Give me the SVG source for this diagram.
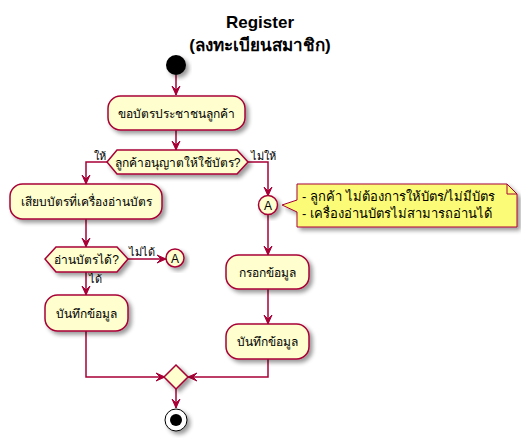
<svg xmlns="http://www.w3.org/2000/svg" width="521" height="441" viewBox="0 0 521 441">
<style>
.box{fill:#FEFECE;stroke:#A80036;stroke-width:1.5;filter:url(#sh)}
.note{fill:#FBFB77;stroke:#A80036;stroke-width:1;filter:url(#sh)}
.ln{fill:none;stroke:#A80036;stroke-width:1.5}
.t{font-family:"Liberation Sans","DejaVu Sans",sans-serif;font-size:12px;fill:#000}
.nt{font-family:"Liberation Sans","DejaVu Sans",sans-serif;font-size:13px;fill:#000}
.lb{font-family:"Liberation Sans","DejaVu Sans",sans-serif;font-size:11px;fill:#000}
.title{font-family:"Liberation Sans","DejaVu Sans",sans-serif;font-size:17px;font-weight:bold;fill:#000}
</style>
<defs>
<filter id="sh" x="-20%" y="-20%" width="150%" height="150%">
<feGaussianBlur in="SourceAlpha" stdDeviation="2"/>
<feOffset dx="3" dy="3" result="b"/>
<feComponentTransfer><feFuncA type="linear" slope="0.4"/></feComponentTransfer>
<feMerge><feMergeNode/><feMergeNode in="SourceGraphic"/></feMerge>
</filter>
<marker id="ah" viewBox="0 0 10 10" refX="9" refY="5" markerWidth="10" markerHeight="10" markerUnits="userSpaceOnUse" orient="auto">
<path d="M0,1 L9,5 L0,9 L4,5 Z" fill="#A80036" stroke="#A80036" stroke-width="1"/>
</marker>
</defs>
<rect width="521" height="441" fill="#FFFFFF"/>
<text class="title" x="260" y="28" text-anchor="middle">Register</text>
<text class="title" x="260" y="51" text-anchor="middle">(ลงทะเบียนสมาชิก)</text>

<g id="connectors">
<line class="ln" x1="176" y1="75" x2="176" y2="95" marker-end="url(#ah)"/>
<line class="ln" x1="176" y1="130" x2="176" y2="150" marker-end="url(#ah)"/>
<polyline class="ln" points="107,162 86,162 86,184" marker-end="url(#ah)"/>
<polyline class="ln" points="248,162 268,162 268,196" marker-end="url(#ah)"/>
<line class="ln" x1="86" y1="219" x2="86" y2="247" marker-end="url(#ah)"/>
<line class="ln" x1="128" y1="259" x2="166" y2="259" marker-end="url(#ah)"/>
<line class="ln" x1="86" y1="272" x2="86" y2="295" marker-end="url(#ah)"/>
<polyline class="ln" points="86,331 86,377 165,377" marker-end="url(#ah)"/>
<line class="ln" x1="268" y1="215" x2="268" y2="255" marker-end="url(#ah)"/>
<line class="ln" x1="268" y1="289" x2="268" y2="324" marker-end="url(#ah)"/>
<polyline class="ln" points="268,359 268,377 188,377" marker-end="url(#ah)"/>
<line class="ln" x1="176" y1="389" x2="176" y2="408" marker-end="url(#ah)"/>
<text class="lb" x="94" y="160">ให้</text>
<text class="lb" x="251" y="160">ไม่ให้</text>
<text class="lb" x="129" y="256">ไม่ได้</text>
<text class="lb" x="89" y="283">ได้</text>
</g>

<g id="start"><circle cx="176" cy="65" r="10" fill="#000" filter="url(#sh)"/></g>

<g id="n1">
<rect class="box" x="108" y="96" width="137" height="34" rx="12.5"/>
<text class="t" x="176.5" y="118" text-anchor="middle">ขอบัตรประชาชนลูกค้า</text>
</g>

<g id="d1">
<polygon class="box" points="107,162 117,150 237,150 248,162 237,174 117,174"/>
<text class="t" x="177.5" y="166.5" text-anchor="middle">ลูกค้าอนุญาตให้ใช้บัตร?</text>
</g>

<g id="n2">
<rect class="box" x="10" y="184" width="152" height="35" rx="12.5"/>
<text class="t" x="86" y="206" text-anchor="middle">เสียบบัตรที่เครื่องอ่านบัตร</text>
</g>

<g id="d2">
<polygon class="box" points="45,259 56,247 117,247 128,259 117,272 56,272"/>
<text class="t" x="86.5" y="264" text-anchor="middle">อ่านบัตรได้?</text>
</g>

<g id="connA1">
<circle class="box" cx="175" cy="258" r="9"/>
<text class="t" x="175" y="262.5" text-anchor="middle">A</text>
</g>

<g id="n3">
<rect class="box" x="45" y="295" width="83" height="36" rx="12.5"/>
<text class="t" x="86.5" y="318" text-anchor="middle">บันทึกข้อมูล</text>
</g>

<g id="connA2">
<circle class="box" cx="268" cy="205" r="9.5"/>
<text class="t" x="268" y="209.5" text-anchor="middle">A</text>
</g>

<g id="note">
<path class="note" d="M297,184 L507,184 L517,194 L517,227 L297,227 L297,212 L282,205 L297,200 Z"/>
<path d="M507,184 L507,194 L517,194" fill="none" stroke="#A80036" stroke-width="1"/>
<text class="nt" x="302" y="201">- ลูกค้า ไม่ต้องการให้บัตร/ไม่มีบัตร</text>
<text class="nt" x="302" y="218">- เครื่องอ่านบัตรไม่สามารถอ่านได้</text>
</g>

<g id="n4">
<rect class="box" x="226" y="255" width="83" height="34" rx="12.5"/>
<text class="t" x="267.5" y="277" text-anchor="middle">กรอกข้อมูล</text>
</g>

<g id="n5">
<rect class="box" x="226" y="324" width="83" height="35" rx="12.5"/>
<text class="t" x="267.5" y="346" text-anchor="middle">บันทึกข้อมูล</text>
</g>

<g id="merge">
<polygon class="box" points="176,365 188,377 176,389 164,377"/>
</g>

<g id="end">
<circle cx="176" cy="420" r="11" fill="#FFFFFF" stroke="#000" stroke-width="1" filter="url(#sh)"/>
<circle cx="176" cy="420" r="6" fill="#000"/>
</g>
</svg>
